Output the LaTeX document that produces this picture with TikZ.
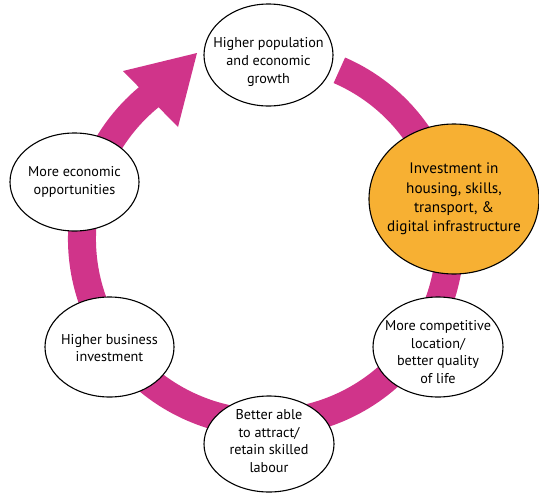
\documentclass[tikz,border=0pt]{standalone}
\usepackage{fontspec}
\setmainfont{PT Sans}
\usetikzlibrary{shapes.geometric}
\definecolor{ringpink}{HTML}{D0348A}
\definecolor{boxorange}{HTML}{F7B033}
\tikzset{
  ell/.style={ellipse, draw=black, line width=1.1pt, fill=white, inner sep=0pt},
  txt/.style={align=center, inner sep=0pt, font=\fontsize{14.2}{17.6}\selectfont, text=black},
  bigtxt/.style={align=center, inner sep=0pt, font=\fontsize{15.2}{19.2}\selectfont, text=black},
  ring/.style={draw=ringpink, line width=28pt},
}
\begin{document}
\begin{tikzpicture}[x=1pt,y=-1pt]
\useasboundingbox (0,0) rectangle (539,493);
% ring with arrow
\coordinate (c) at (266,239);
\draw[ring] (c) ++(-66.5:184) arc[start angle=-66.5, end angle=232, radius=184];
\coordinate (tip) at (197,53);
\coordinate (barbA) at (123,71);
\coordinate (barbB) at (178,127);
\fill[ringpink] (barbA) -- (tip) -- (barbB) -- cycle;
% ellipses
\node[ell, minimum width=129pt, minimum height=102pt] (top) at (268.5,55) {};
\node[txt] at ([yshift=-7pt]top.center) {Higher population\\and economic\\growth};
\node[ell, fill=boxorange, minimum width=170pt, minimum height=150pt] (inv) at (454,199) {};
\node[bigtxt] at (inv) {Investment in\\housing, skills,\\transport, \&\\digital infrastructure};
\node[ell, minimum width=130pt, minimum height=100pt] (comp) at (438,347) {};
\node[txt] at ([yshift=-5pt]comp.center) {More competitive\\location/\\better quality\\of life};
\node[ell, minimum width=130pt, minimum height=96pt] (lab) at (269,444) {};
\node[txt] at ([yshift=3pt]lab.center) {Better able\\to attract/\\retain skilled\\labour};
\node[ell, minimum width=129pt, minimum height=100pt] (bus) at (109.5,347) {};
\node[txt] at ([yshift=-1pt]bus.center) {Higher business\\investment};
\node[ell, minimum width=129pt, minimum height=98pt] (opp) at (74.5,182) {};
\node[txt] at (opp) {More economic\\opportunities};
\end{tikzpicture}
\end{document}
